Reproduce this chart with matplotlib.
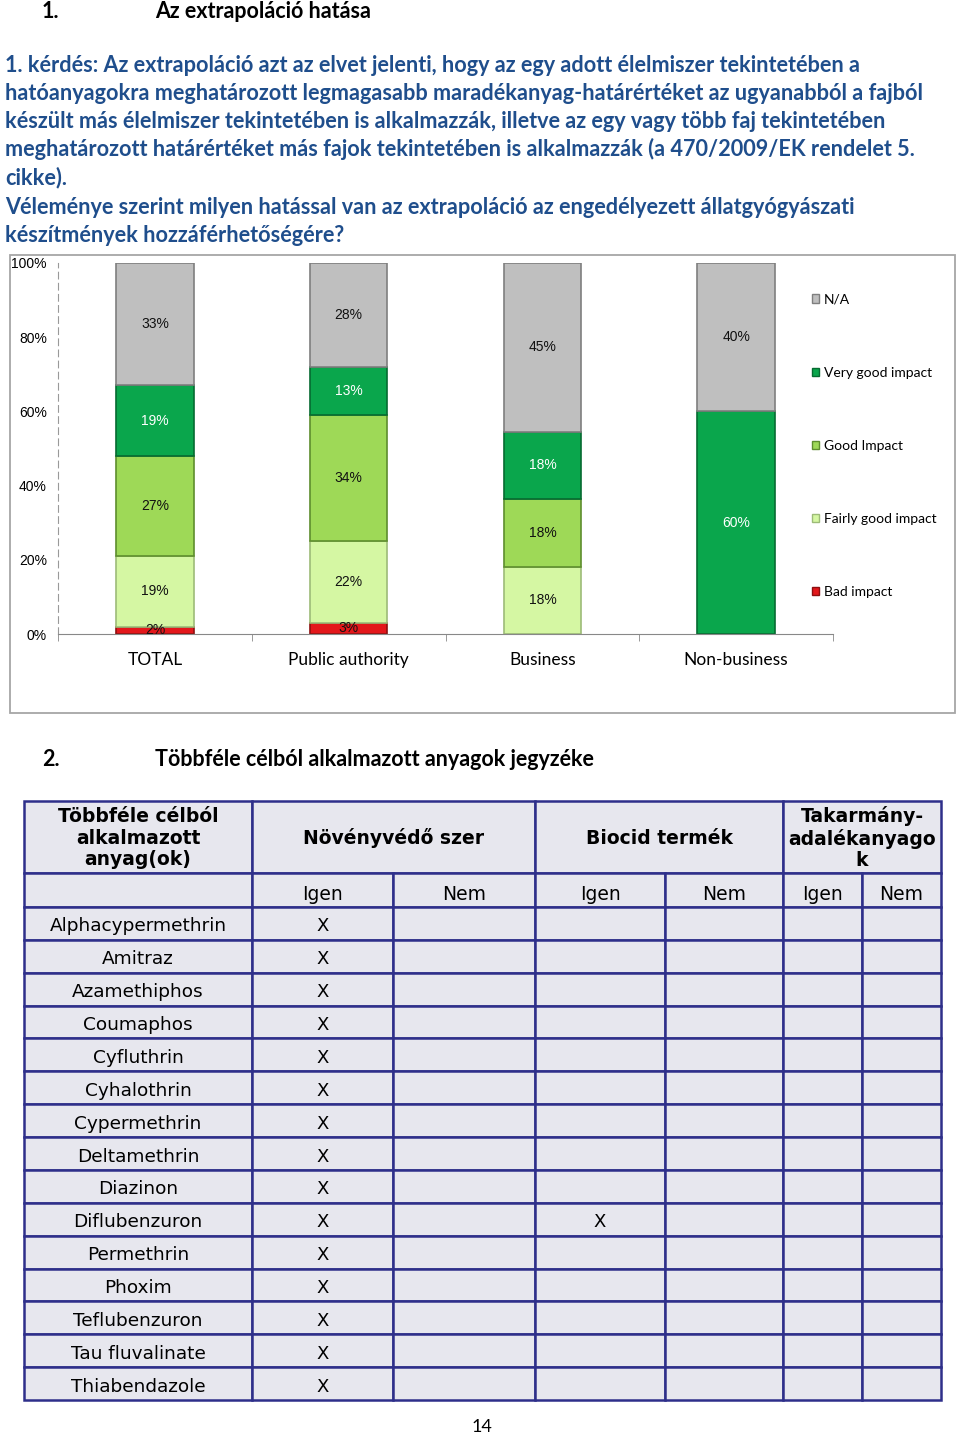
import matplotlib
matplotlib.use('Agg')
import matplotlib.pyplot as plt
from matplotlib.patches import Rectangle, Patch
import numpy as np

# ---- chart data ----
groups = ['TOTAL', 'Public authority', 'Business', 'Non-business']
series = ['Bad impact', 'Fairly good impact', 'Good Impact', 'Very good impact', 'N/A']
bad = [2, 3, 0, 0]
fairly = [19, 22, 18, 0]
good = [27, 34, 18, 0]
very_good = [19, 13, 18, 60]
na = [33, 28, 45, 40]
yticks = [0, 20, 40, 60, 80, 100]

# ---- table data ----
substances = ['Alphacypermethrin', 'Amitraz', 'Azamethiphos', 'Coumaphos', 'Cyfluthrin',
              'Cyhalothrin', 'Cypermethrin', 'Deltamethrin', 'Diazinon', 'Diflubenzuron',
              'Permethrin', 'Phoxim', 'Teflubenzuron', 'Tau fluvalinate', 'Thiabendazole']
novenyvedo_igen = [1] * 15
biocid_igen = [0, 0, 0, 0, 0, 0, 0, 0, 0, 1, 0, 0, 0, 0, 0]
group_heads = ['Növényvédő szer', 'Biocid termék', 'Takarmány-\nadalékanyago\nk']
sub_heads = ['Igen', 'Nem'] * 3

para = ['1. kérdés: Az extrapoláció azt az elvet jelenti, hogy az egy adott élelmiszer tekintetében a',
        'hatóanyagokra meghatározott legmagasabb maradékanyag-határértéket az ugyanabból a fajból',
        'készült más élelmiszer tekintetében is alkalmazzák, illetve az egy vagy több faj tekintetében',
        'meghatározott határértéket más fajok tekintetében is alkalmazzák (a 470/2009/EK rendelet 5.',
        'cikke).',
        'Véleménye szerint milyen hatással van az extrapoláció az engedélyezett állatgyógyászati',
        'készítmények hozzáférhetőségére?']

CAL = ['Lato', 'DejaVu Sans']
ARIAL = ['Liberation Sans', 'DejaVu Sans']
colors = ['#E3171B', '#D5F7A3', '#9ED957', '#0AA64C', '#BFBFBF']
edges = ['#8E0F10', '#9DBB78', '#5E8E2E', '#066B31', '#7F7F7F']

fig = plt.figure(figsize=(9.6, 14.37), dpi=100)
page = fig.add_axes([0, 0, 1, 1])
page.set_xlim(0, 960)
page.set_ylim(1437, 0)
page.axis('off')

# headings
page.text(42, 12, '1.', family=CAL, fontsize=15.5, fontweight='bold', va='center')
page.text(155, 12, 'Az extrapoláció hatása', family=CAL, fontsize=15.5, fontweight='bold', va='center')
for i, line in enumerate(para):
    y = [65, 93, 121, 149, 178, 207, 235][i]
    page.text(5, y, line, family=CAL, fontsize=15.6, fontweight='bold', color='#1F4E8C', va='center')

# chart frame
page.add_patch(Rectangle((10, 255), 945, 458, fill=False, ec='#A6A6A6', lw=1.3))

# ---- chart ----
ax = fig.add_axes([58 / 960, 1 - 634 / 1437, 775 / 960, 371 / 1437])
ax.patch.set_alpha(0)
data = np.array([bad, fairly, good, very_good, na], dtype=float)
totals = data.sum(axis=0)
norm = data / totals * 100
x = np.arange(len(groups))
bottom = np.zeros(len(groups))
for k in range(len(series)):
    ax.bar(x, norm[k], 0.4, bottom=bottom, color=colors[k], edgecolor=edges[k], lw=1.2,
           label=series[k])
    for j in range(len(groups)):
        if data[k, j] > 0:
            tc = 'white' if k == 3 else '#111111'
            ax.text(x[j], bottom[j] + norm[k, j] / 2, '%d%%' % data[k, j], ha='center',
                    va='center', family=ARIAL, fontsize=10, color=tc)
    bottom += norm[k]

ax.set_xlim(-0.5, len(groups) - 0.5)
ax.set_ylim(0, 100)
ax.set_yticks(yticks)
ax.set_yticklabels(['%d%%' % t for t in yticks], family=ARIAL, fontsize=10)
ax.tick_params(axis='y', length=0, pad=8)
ax.set_xticks(x)
ax.set_xticklabels(groups, family=CAL, fontsize=12.5)
ax.tick_params(axis='x', length=0, pad=13)
ax.set_xticks(np.arange(len(groups) + 1) - 0.5, minor=True)
ax.tick_params(axis='x', which='minor', length=5, color='#888888', direction='out')
ax.spines['top'].set_visible(False)
ax.spines['right'].set_visible(False)
ax.spines['left'].set_linestyle((0, (6, 4)))
ax.spines['left'].set_color('#999999')
ax.spines['bottom'].set_color('#888888')

handles = [Patch(facecolor=colors[k], edgecolor=edges[k], label=series[k]) for k in range(4, -1, -1)]
fig.legend(handles=handles, loc='upper left', bbox_to_anchor=(799 / 960, 1 - 281 / 1437),
           frameon=False, prop={'family': CAL, 'size': 10}, handlelength=0.55,
           handleheight=0.55, handletextpad=0.35, labelspacing=4.4)

# ---- section 2 ----
page.text(42, 760, '2.', family=CAL, fontsize=15.5, fontweight='bold', va='center')
page.text(155, 760, 'Többféle célból alkalmazott anyagok jegyzéke', family=CAL, fontsize=15.5,
          fontweight='bold', va='center')

col_x = [24, 252, 393, 535, 665, 783, 862, 941]
top, h1, h2 = 801, 873, 907
row_h = (1400 - h2) / len(substances)
navy = '#2E2F8A'
cell = '#E7E7EE'
lw = 1.8

def box(x0, y0, x1, y1):
    page.add_patch(Rectangle((x0, y0), x1 - x0, y1 - y0, fc=cell, ec=navy, lw=lw))

box(col_x[0], top, col_x[1], h1)
for g in range(3):
    box(col_x[1 + 2 * g], top, col_x[3 + 2 * g], h1)
for c in range(7):
    box(col_x[c], h1, col_x[c + 1], h2)
for r in range(len(substances)):
    for c in range(7):
        box(col_x[c], h2 + r * row_h, col_x[c + 1], h2 + (r + 1) * row_h)

page.text(138, 838, 'Többféle célból\nalkalmazott\nanyag(ok)', ha='center', va='center',
          fontsize=13.5, fontweight='bold', linespacing=1.15)
for g in range(3):
    cx = (col_x[1 + 2 * g] + col_x[3 + 2 * g]) / 2
    page.text(cx, 838, group_heads[g], ha='center', va='center', fontsize=13.5,
              fontweight='bold', linespacing=1.15)
for c in range(6):
    cx = (col_x[c + 1] + col_x[c + 2]) / 2
    page.text(cx, 895, sub_heads[c], ha='center', va='center', fontsize=13.5)
for r, name in enumerate(substances):
    cy = h2 + (r + 0.5) * row_h + 3
    page.text(138, cy, name, ha='center', va='center', fontsize=13.3)
    if novenyvedo_igen[r]:
        page.text((col_x[1] + col_x[2]) / 2, cy, 'X', ha='center', va='center', fontsize=13)
    if biocid_igen[r]:
        page.text((col_x[3] + col_x[4]) / 2, cy, 'X', ha='center', va='center', fontsize=13)

page.text(482, 1427, '14', family=CAL, fontsize=13, ha='center', va='center')

fig.savefig('out.png', dpi=100)
